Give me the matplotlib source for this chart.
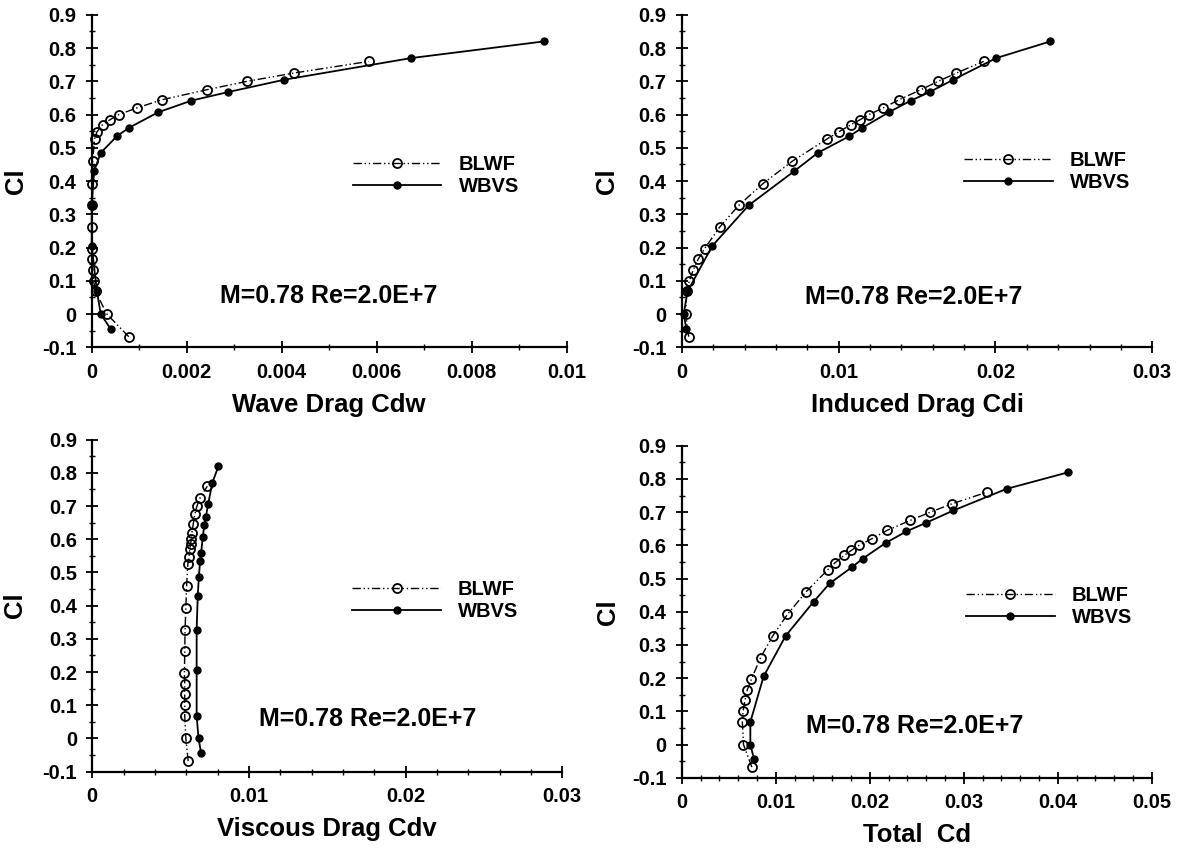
import matplotlib
matplotlib.use("Agg")
import matplotlib.pyplot as plt
from matplotlib.ticker import MultipleLocator, FuncFormatter

plt.rcParams['font.family'] = ['Liberation Sans', 'DejaVu Sans']
plt.rcParams['font.weight'] = 'bold'

# lift coefficient at each computed point
cl_blwf = [-0.068, 0.0, 0.068, 0.10, 0.133, 0.165, 0.197, 0.262, 0.327, 0.392, 0.46,
           0.527, 0.548, 0.57, 0.585, 0.60, 0.62, 0.645, 0.675, 0.70, 0.725, 0.76]
cl_wbvs = [-0.045, 0.0, 0.068, 0.205, 0.327, 0.43, 0.485, 0.535, 0.56, 0.607, 0.642,
           0.668, 0.705, 0.77, 0.82]

# wave drag
cdw_blwf = [0.00078, 0.00032, 0.00008, 0.00004, 0.00002, 0.0, 0.0, 0.0, 0.0, 0.0, 0.00002,
            0.00006, 0.00011, 0.00023, 0.00039, 0.00057, 0.00095, 0.00149, 0.00243, 0.00327,
            0.00426, 0.00584]
cdw_wbvs = [0.0004, 0.00019, 0.00011, 0.0, 0.0, 0.00005, 0.00019, 0.00053, 0.00078, 0.0014,
            0.0021, 0.00288, 0.00406, 0.00673, 0.00952]

# induced drag
cdi_blwf = [0.00044, 0.00024, 0.0003, 0.00048, 0.00073, 0.00104, 0.00145, 0.00242, 0.00363,
            0.00516, 0.00705, 0.00927, 0.0100, 0.0108, 0.01138, 0.01194, 0.01283, 0.01387,
            0.01525, 0.01634, 0.01751, 0.01925]
cdi_wbvs = [0.00029, 0.00012, 0.00036, 0.00194, 0.00426, 0.00717, 0.00867, 0.01068, 0.0115,
            0.0132, 0.0146, 0.01581, 0.01731, 0.02005, 0.02349]

# viscous drag
cdv_blwf = [0.00612, 0.00597, 0.0059, 0.0059, 0.0059, 0.0059, 0.00588, 0.0059, 0.00592,
            0.00597, 0.00602, 0.0061, 0.00617, 0.00622, 0.00627, 0.00632, 0.00636, 0.00644,
            0.00654, 0.00668, 0.00688, 0.00734]
cdv_wbvs = [0.00695, 0.00678, 0.00666, 0.00666, 0.00666, 0.00673, 0.0068, 0.00688, 0.00695,
            0.00705, 0.00715, 0.00725, 0.00739, 0.00766, 0.00805]

# total drag
cd_blwf = [0.00746, 0.00657, 0.00645, 0.00653, 0.00673, 0.00698, 0.00742, 0.00839, 0.00968,
           0.01125, 0.01323, 0.01556, 0.01633, 0.0173, 0.01806, 0.01887, 0.02024, 0.02185,
           0.02431, 0.02645, 0.02875, 0.03246]
cd_wbvs = [0.0077, 0.0073, 0.0073, 0.00871, 0.01105, 0.01403, 0.01573, 0.01815, 0.01927,
           0.02169, 0.02391, 0.02601, 0.02891, 0.03456, 0.04113]

note = "M=0.78 Re=2.0E+7"

panels = [
    # rect, x data blwf, x data wbvs, xlabel, xmax, major, minor, legend anchor, note pos, ylabel x
    ([0.0774, 0.5904, 0.4007, 0.3921], cdw_blwf, cdw_wbvs, "Wave Drag Cdw", 0.01, 0.002, 0.001,
     (0.55, 0.516), (0.005, 0.055), -0.135),
    ([0.5754, 0.5904, 0.3970, 0.3921], cdi_blwf, cdi_wbvs, "Induced Drag Cdi", 0.03, 0.01, 0.002,
     (0.60, 0.53), (0.0148, 0.05), -0.133),
    ([0.0779, 0.0900, 0.3966, 0.3915], cdv_blwf, cdv_wbvs, "Viscous Drag Cdv", 0.03, 0.01, 0.002,
     (0.553, 0.515), (0.0176, 0.06), -0.139),
    ([0.5753, 0.0829, 0.3966, 0.3915], cd_blwf, cd_wbvs, "Total  Cd", 0.05, 0.01, 0.002,
     (0.605, 0.516), (0.0248, 0.055), -0.132),
]


def fmt(v, pos):
    v = round(v, 6)
    if v == 0:
        return "0"
    return "%g" % v


fig = plt.figure(figsize=(11.85, 8.48), dpi=100)

for rect, xb, xw, xlab, xmax, major, minor, leg_xy, note_xy, ylx in panels:
    ax = fig.add_axes(rect)
    ax.plot(xb, cl_blwf, color='black', lw=1.0, linestyle=(0, (6, 2, 1, 2, 1, 2)),
            marker='o', ms=6.5, mfc='none', mec='black', mew=1.3, clip_on=False, label='BLWF')
    ax.plot(xw, cl_wbvs, color='black', lw=1.3, linestyle='-',
            marker='o', ms=5, mfc='black', mec='black', clip_on=False, label='WBVS')

    ax.set_xlim(0, xmax)
    ax.set_ylim(-0.1, 0.9)
    ax.xaxis.set_major_locator(MultipleLocator(major))
    ax.xaxis.set_minor_locator(MultipleLocator(minor))
    ax.yaxis.set_major_locator(MultipleLocator(0.1))
    ax.yaxis.set_minor_locator(MultipleLocator(0.05))
    ax.xaxis.set_major_formatter(FuncFormatter(fmt))
    ax.yaxis.set_major_formatter(FuncFormatter(fmt))

    for s in ['top', 'right']:
        ax.spines[s].set_visible(False)
    for s in ['left', 'bottom']:
        ax.spines[s].set_linewidth(1.6)
    ax.tick_params(which='major', direction='inout', length=8, width=1.3,
                   labelsize=14.5, pad=7)
    ax.tick_params(which='minor', direction='inout', length=5, width=1.0)

    ax.set_xlabel(xlab, fontsize=18.5, fontweight='bold', labelpad=8)
    ax.set_ylabel("Cl", fontsize=18.5, fontweight='bold')
    ax.yaxis.set_label_coords(ylx, 0.5)

    ax.text(note_xy[0], note_xy[1], note, fontsize=18, fontweight='bold',
            ha='center', va='center')

    ax.legend(loc='center left', bbox_to_anchor=leg_xy, frameon=False,
              fontsize=14.5, handlelength=4.4, handletextpad=0.85,
              borderpad=0, borderaxespad=0, labelspacing=0.15)

fig.savefig("out.png", dpi=100)
